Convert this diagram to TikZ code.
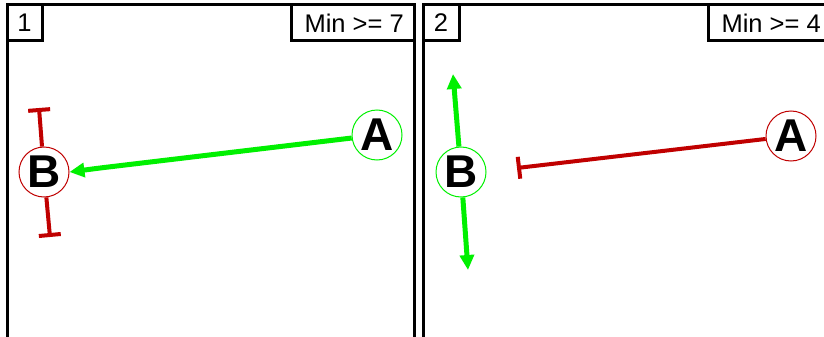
\documentclass[tikz,border=0pt]{standalone}
\usepackage{fontspec}
\setmainfont{Liberation Sans}
\usetikzlibrary{arrows.meta}
\definecolor{lgreen}{HTML}{00F000}
\definecolor{dred}{HTML}{C00000}
\begin{document}
\begin{tikzpicture}[x=1pt,y=-1pt,
  frame/.style={draw=black,line width=3pt},
  lbl/.style={font=\fontsize{25.5}{25.5}\selectfont,inner sep=0pt},
  nodec/.style={circle,draw,line width=1pt,minimum size=50pt,inner sep=0pt,fill=white,font=\fontsize{46}{46}\selectfont\bfseries},
  act/.style={draw=lgreen,line width=5pt,-{Triangle[length=15pt,width=14pt]}},
  inh/.style={draw=dred,line width=4pt,-{Bar[width=22pt]}}]
\useasboundingbox (0,0) rectangle (824,337);
\begin{scope}
\clip (0,0) rectangle (824,337);
% panel 1
\draw[frame] (7,350) -- (7,4.5) -- (414,4.5) -- (414,350);
\draw[frame] (7,41) -- (42,41) -- (42,4.5);
\draw[frame] (291,4.5) -- (291,41) -- (414,41);
\node[lbl,anchor=center] (n1) at (24.5,23) {1};
\node[lbl,anchor=east] (m1) at (404,23) {Min >= 7};
% panel 2
\draw[frame] (423,350) -- (423,4.5) -- (830,4.5);
\draw[frame] (423,41) -- (459,41) -- (459,4.5);
\draw[frame] (708,4.5) -- (708,41) -- (830,41);
\node[lbl,anchor=center] (n2) at (441,23) {2};
\node[lbl,anchor=east] (m2) at (821,23) {Min >= 4};
\end{scope}
% panel 1 nodes
\node[nodec,draw=lgreen] (A1) at (377,135) {A};
\node[nodec,draw=dred] (B1) at (44,172) {B};
\coordinate (b1t) at (39,108);
\coordinate (b1b) at (50,237);
\coordinate (bend1) at (100,168);
\draw[inh] (B1) -- (b1t);
\draw[inh] (B1) -- (b1b);
\draw[act,rounded corners=6pt] (A1) -- (bend1) -- (B1.east);
% panel 2 nodes
\node[nodec,draw=lgreen] (B2) at (461,172) {B};
\node[nodec,draw=dred] (A2) at (791,136) {A};
\coordinate (b2t) at (453,74);
\coordinate (b2b) at (468,270);
\coordinate (a2e) at (517,168);
\draw[act] (B2) -- (b2t);
\draw[act] (B2) -- (b2b);
\draw[inh] (A2) -- (a2e);
\end{tikzpicture}
\end{document}
